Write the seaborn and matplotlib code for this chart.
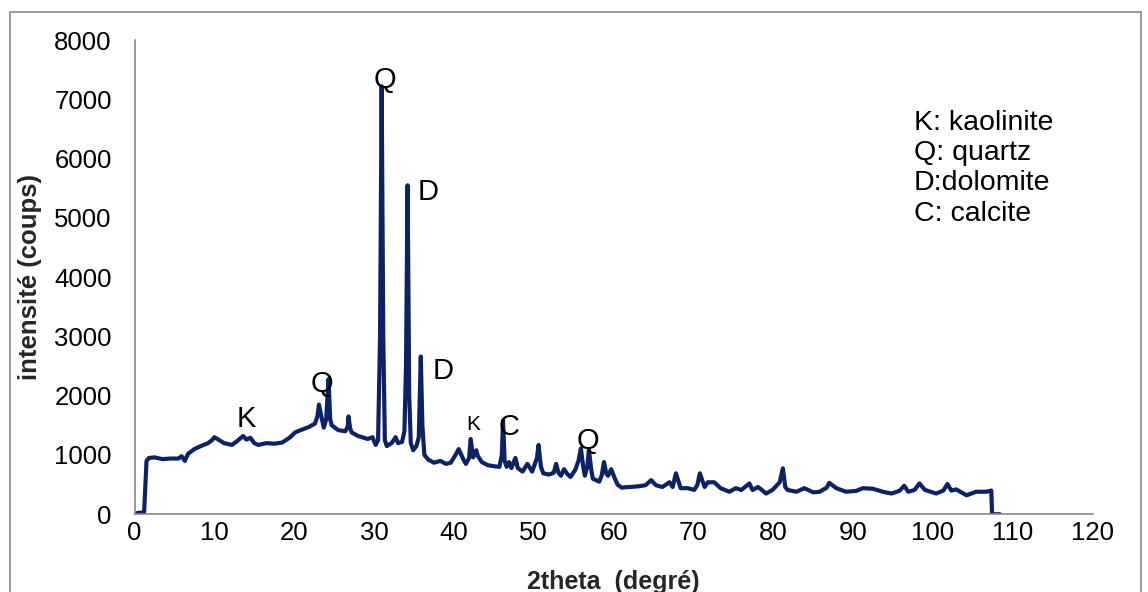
import matplotlib
matplotlib.use("Agg")
import matplotlib.pyplot as plt
import seaborn as sns
import pandas as pd
from matplotlib.patches import Rectangle

two_theta = [0.3, 1.0, 1.2, 1.5, 1.8, 2.5, 3.5, 4.5, 5.5, 5.9, 6.3, 6.7, 7.5, 8.3, 9.2, 9.7, 10.0,
             10.5, 11.2, 12.2, 12.8, 13.6, 14.0, 14.5, 15.0, 15.5, 16.5, 17.5, 18.5, 19.5, 20.1,
             21.0, 21.8, 22.6, 22.9, 23.1, 23.4, 23.7, 24.0, 24.3, 24.5, 24.7, 25.5, 26.4, 26.7,
             26.8, 27.0, 27.2, 28.0, 28.5, 29.2, 29.8, 30.2, 30.5, 30.75, 30.95, 31.15, 31.35,
             31.6, 32.2, 32.7, 33.0, 33.5, 33.8, 34.0, 34.2, 34.4, 34.6, 34.9, 35.3, 35.6, 35.85,
             36.05, 36.3, 36.8, 37.5, 38.3, 39.0, 39.6, 40.2, 40.6, 41.2, 41.5, 41.9, 42.1, 42.4,
             42.8, 43.0, 43.5, 44.2, 45.0, 45.7, 46.0, 46.15, 46.35, 46.6, 46.9, 47.2, 47.7, 48.0,
             48.6, 49.2, 49.8, 50.4, 50.6, 50.9, 51.2, 51.9, 52.5, 52.8, 53.1, 53.4, 53.8, 54.2,
             54.6, 55.2, 55.6, 55.9, 56.2, 56.4, 56.7, 56.9, 57.2, 57.4, 58.2, 58.5, 58.8, 59.1,
             59.3, 59.7, 60.1, 60.5, 61.0, 62.0, 63.0, 64.0, 64.7, 65.3, 66.1, 67.0, 67.4, 67.8,
             68.4, 69.3, 70.1, 70.5, 70.8, 71.4, 71.8, 72.6, 73.4, 74.5, 75.3, 76.0, 77.0, 77.4,
             78.1, 79.1, 79.9, 80.8, 81.2, 81.5, 81.8, 82.9, 83.9, 85.0, 85.8, 86.7, 87.0, 87.9,
             89.1, 90.4, 91.2, 92.5, 93.7, 94.8, 95.8, 96.4, 96.9, 97.7, 98.3, 99.0, 100.4, 101.3,
             101.8, 102.3, 102.9, 104.2, 105.4, 106.7, 107.3, 107.4, 108.4]
counts = [20, 30, 40, 900, 950, 960, 930, 940, 940, 980, 900, 1020, 1100, 1150, 1200, 1250, 1300,
          1260, 1200, 1170, 1230, 1320, 1260, 1290, 1200, 1170, 1200, 1190, 1210, 1300, 1380,
          1430, 1470, 1530, 1650, 1850, 1650, 1460, 1600, 2280, 1600, 1500, 1420, 1400, 1480,
          1650, 1450, 1380, 1320, 1300, 1270, 1300, 1170, 1250, 3000, 7220, 3000, 1250,
          1150, 1200, 1300, 1200, 1220, 1400, 2500, 5550, 2000, 1200, 1080, 1150, 1300, 2660,
          1500, 1000, 920, 870, 900, 850, 870, 1000, 1100, 920, 850, 950, 1270, 960,
          1080, 980, 880, 830, 810, 800, 1000, 1580, 900, 800, 880, 780, 950, 780,
          720, 850, 720, 950, 1170, 800, 690, 670, 700, 850, 700, 650, 760, 680,
          630, 750, 900, 1110, 800, 650, 800, 1085, 750, 600, 550, 650, 880, 680,
          650, 760, 620, 500, 450, 460, 470, 490, 575, 490, 460, 540, 460, 690,
          440, 440, 410, 500, 690, 460, 540, 540, 440, 380, 440, 410, 520, 410,
          460, 350, 410, 540, 775, 460, 410, 380, 440, 370, 380, 450, 530, 440,
          380, 395, 440, 430, 380, 350, 395, 480, 380, 410, 520, 410, 350, 400,
          510, 400, 420, 320, 380, 380, 400, 0, 0]

peak_labels = ["K", "Q", "Q", "D", "D", "K", "C", "Q"]
peak_x = [14.0, 23.5, 31.4, 36.8, 38.6, 42.4, 46.9, 56.8]
peak_y = [1600, 2200, 7330, 5430, 2420, 1510, 1480, 1240]
peak_sizes = [21, 21, 21, 21, 21, 15, 21, 21]

legend_lines = ["K: kaolinite", "Q: quartz", "D:dolomite", "C: calcite"]

x_ticks = list(range(0, 121, 10))
y_ticks = list(range(0, 8001, 1000))

sns.set_theme(style="white")
plt.rcParams["font.family"] = ["Liberation Sans", "DejaVu Sans"]

df = pd.DataFrame({"2theta": two_theta, "counts": counts})

fig = plt.figure(figsize=(11.48, 5.92), dpi=100)
ax = fig.add_axes([0.1172, 0.1313, 0.9518 - 0.1172, 0.9324 - 0.1313])

sns.lineplot(data=df, x="2theta", y="counts", sort=False, estimator=None,
             color="#0b2364", linewidth=3.0, ax=ax)

ax.set_xlim(0, 120)
ax.set_ylim(0, 8000)
ax.set_xticks(x_ticks)
ax.set_yticks(y_ticks)
ax.tick_params(axis="both", labelsize=18.5, colors="#888888", labelcolor="black",
               length=4.5, width=1.2, direction="out")
ax.tick_params(axis="y", pad=12)
ax.tick_params(axis="x", pad=0.5)
for s in ["top", "right"]:
    ax.spines[s].set_visible(False)
for s in ["left", "bottom"]:
    ax.spines[s].set_color("#888888")
    ax.spines[s].set_linewidth(1.2)

ax.set_xlabel("2theta  (degré)", fontsize=18, fontweight="bold", labelpad=18)
ax.set_ylabel("intensité (coups)", fontsize=18.5, fontweight="bold", labelpad=9)

for lab, px, py, fs in zip(peak_labels, peak_x, peak_y, peak_sizes):
    ax.text(px, py, lab, fontsize=fs, ha="center", va="center", color="black")

for i, line in enumerate(legend_lines):
    ax.text(97.6, 6600 - i * 510, line, fontsize=20.5, ha="left", va="center", color="black")

fig.patches.append(Rectangle((10 / 1148, -0.05), (1141 - 10) / 1148, 1.05 - 12 / 592,
                             transform=fig.transFigure, fill=False, edgecolor="#888888",
                             linewidth=1.2))

fig.savefig("out.png", dpi=100)
